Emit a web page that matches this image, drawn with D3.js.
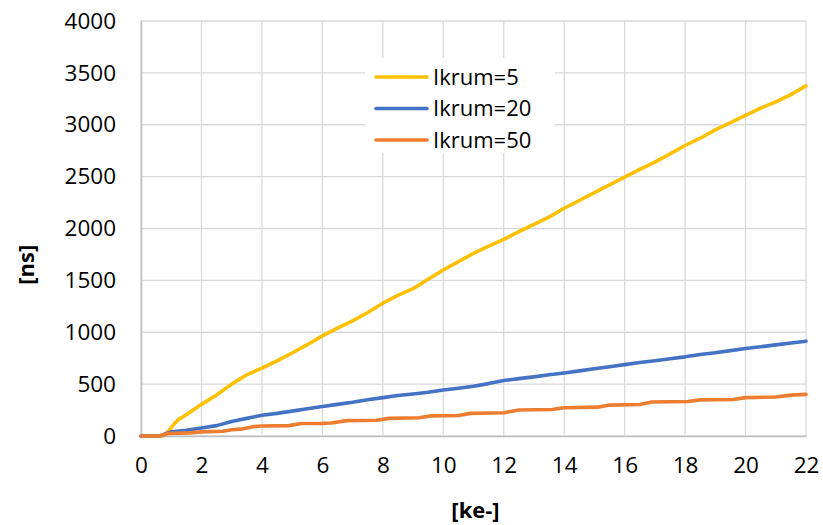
<!DOCTYPE html>
<html>
<head>
<meta charset="utf-8">
<script src="https://cdn.jsdelivr.net/npm/d3@7"></script>
<style>
  html, body { margin: 0; padding: 0; background: #fff; }
  svg text { font-family: "Open Sans", Lato, "Noto Sans", sans-serif; fill: #000; }
</style>
</head>
<body>
<svg id="chart" width="823" height="525"></svg>
<script>
// Collected charge [ke-] against time over threshold [ns] for three Ikrum settings
const seriesNames = ["Ikrum=5", "Ikrum=20", "Ikrum=50"];

const ikrum5 = [
  [0, 0], [0.7, 0], [0.8, 20], [0.9, 45], [1.0, 80], [1.1, 120], [1.25, 160], [1.5, 205],
  [2.0, 305], [2.5, 395], [3.0, 500], [3.5, 590], [4.0, 655], [4.5, 725], [5.0, 800],
  [5.5, 880], [6.0, 965], [6.5, 1040], [7.0, 1110], [7.5, 1190], [8.0, 1280], [8.5, 1355],
  [9.0, 1420], [9.5, 1510], [10.0, 1600], [10.5, 1680], [11.0, 1760], [11.5, 1830],
  [12.0, 1895], [12.5, 1970], [13.0, 2040], [13.5, 2110], [14.0, 2195], [14.5, 2270],
  [15.0, 2345], [15.5, 2420], [16.0, 2495], [16.5, 2570], [17.0, 2640], [17.5, 2720],
  [18.0, 2800], [18.5, 2870], [19.0, 2950], [19.5, 3020], [20.0, 3090], [20.5, 3160],
  [21.0, 3220], [21.5, 3290], [22.0, 3375]
];

const ikrum20 = [
  [0, 0], [0.6, 0], [0.8, 20], [1.0, 40], [1.5, 55], [2.0, 78], [2.5, 100], [3.0, 140],
  [3.5, 170], [4.0, 200], [4.5, 218], [5.0, 240], [5.5, 262], [6.0, 285], [6.5, 305],
  [7.0, 325], [7.5, 350], [8.0, 370], [8.5, 390], [9.0, 405], [9.5, 422], [10.0, 443],
  [10.5, 460], [11.0, 480], [11.5, 505], [12.0, 535], [12.5, 553], [13.0, 570],
  [13.5, 590], [14.0, 608], [14.5, 628], [15.0, 648], [15.5, 668], [16.0, 688],
  [16.5, 708], [17.0, 725], [17.5, 745], [18.0, 763], [18.5, 785], [19.0, 803],
  [19.5, 823], [20.0, 843], [20.5, 860], [21.0, 878], [21.5, 896], [22.0, 914]
];

const ikrum50 = [
  [0, 0], [0.6, 0], [0.75, 12], [0.9, 24], [1.6, 30], [2.0, 40], [2.7, 46], [3.0, 60],
  [3.3, 66], [3.7, 90], [4.0, 96], [4.9, 100], [5.3, 120], [6.0, 122], [6.3, 126],
  [6.8, 148], [7.8, 152], [8.2, 170], [9.2, 176], [9.6, 194], [10.5, 198], [10.9, 218],
  [12.0, 224], [12.5, 250], [13.6, 256], [14.0, 272], [15.1, 278], [15.5, 298],
  [16.5, 304], [16.9, 328], [18.1, 332], [18.5, 348], [19.6, 352], [20.0, 370],
  [21.0, 376], [21.5, 394], [22.0, 401]
];

const xTicks = [0, 2, 4, 6, 8, 10, 12, 14, 16, 18, 20, 22];
const yTicks = [0, 500, 1000, 1500, 2000, 2500, 3000, 3500, 4000];
const xTitle = "[ke-]";
const yTitle = "[ns]";

const colors = ["#FFC000", "#4472C4", "#ED7D31"];
const allSeries = [ikrum5, ikrum20, ikrum50];

const svg = d3.select("#chart");
const plot = { left: 141, right: 806, top: 21, bottom: 436 };

const x = d3.scaleLinear().domain([0, 22]).range([plot.left, plot.right]);
const y = d3.scaleLinear().domain([0, 4000]).range([plot.bottom, plot.top]);

// gridlines
const grid = svg.append("g");
grid.selectAll("line.h").data(yTicks).join("line")
  .attr("x1", plot.left).attr("x2", plot.right)
  .attr("y1", d => y(d)).attr("y2", d => y(d))
  .attr("stroke", "#d9d9d9").attr("stroke-width", 1.3);
grid.selectAll("line.v").data(xTicks).join("line")
  .attr("y1", plot.top).attr("y2", plot.bottom)
  .attr("x1", d => x(d)).attr("x2", d => x(d))
  .attr("stroke", "#d9d9d9").attr("stroke-width", 1.3);

// axes
const xAxis = d3.axisBottom(x).tickValues(xTicks).tickFormat(d3.format("d"))
  .tickSize(0).tickPadding(27);
const yAxis = d3.axisLeft(y).tickValues(yTicks).tickFormat(d3.format("d"))
  .tickSize(0).tickPadding(25);

const gx = svg.append("g").attr("transform", `translate(0,${plot.bottom})`).call(xAxis);
const gy = svg.append("g").attr("transform", `translate(${plot.left},0)`).call(yAxis);
[gx, gy].forEach(g => {
  g.select(".domain").attr("stroke", "#bfbfbf").attr("stroke-width", 1.5);
  g.selectAll("text").style("font-size", "22.5px").attr("fill", "#000");
});
gx.selectAll("text").attr("dy", "0.45em");

// axis titles
svg.append("text")
  .attr("x", x(11) + 2).attr("y", 518)
  .attr("text-anchor", "middle")
  .style("font-size", "22px").style("font-weight", "bold")
  .text(xTitle);
svg.append("text")
  .attr("transform", `translate(34,${y(1650)}) rotate(-90)`)
  .attr("text-anchor", "middle")
  .style("font-size", "22px").style("font-weight", "bold")
  .text(yTitle);

// series lines
const line = d3.line().x(d => x(d[0])).y(d => y(d[1]));
svg.append("g").selectAll("path").data(allSeries).join("path")
  .attr("d", line)
  .attr("fill", "none")
  .attr("stroke", (d, i) => colors[i])
  .attr("stroke-width", 3.6)
  .attr("stroke-linejoin", "round")
  .attr("stroke-linecap", "round");

// legend
const legend = svg.append("g");
legend.append("rect")
  .attr("x", 365).attr("y", 58).attr("width", 190).attr("height", 95)
  .attr("fill", "#fff");
const rows = legend.selectAll("g").data(seriesNames).join("g")
  .attr("transform", (d, i) => `translate(0,${77 + i * 31.5})`);
rows.append("line")
  .attr("x1", 376).attr("x2", 427).attr("y1", 0).attr("y2", 0)
  .attr("stroke", (d, i) => colors[i]).attr("stroke-width", 3.6)
  .attr("stroke-linecap", "round");
rows.append("text")
  .attr("x", 433).attr("y", 0).attr("dy", "0.36em")
  .style("font-size", "22px")
  .text(d => d);
</script>
</body>
</html>
